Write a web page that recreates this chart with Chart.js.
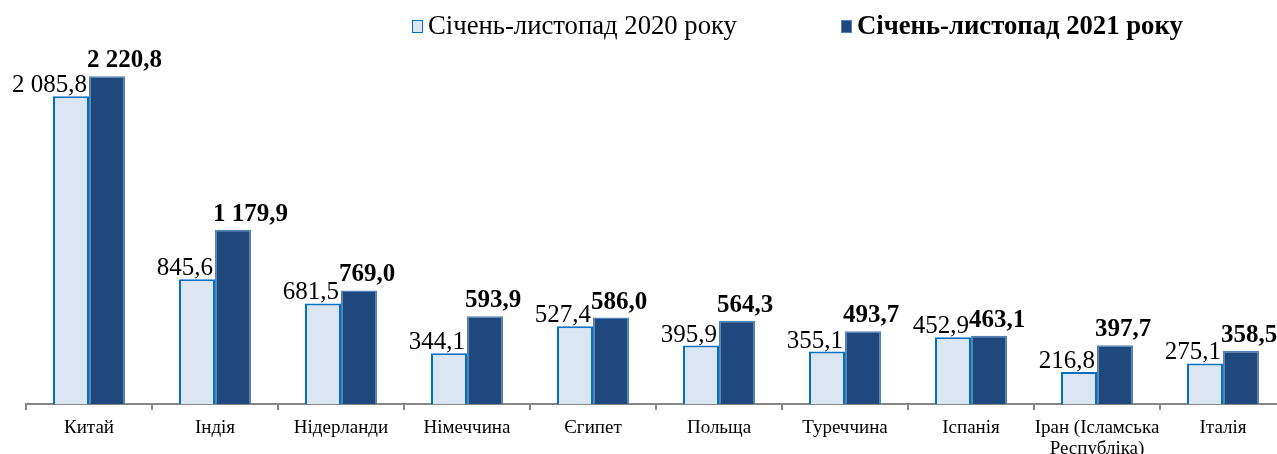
<!DOCTYPE html>
<html lang="uk">
<head>
<meta charset="utf-8">
<script src="https://cdn.jsdelivr.net/npm/chart.js@4.4.1/dist/chart.umd.min.js"></script>
<style>
  html, body { margin: 0; padding: 0; background: #fff; overflow: hidden; }
  #zone { position: relative; width: 1290px; height: 454px; }
  #legende { position: absolute; top: 10px; left: 0; font-family: "Liberation Serif", "Times New Roman", serif; font-size: 26.7px; color: #000; }
  .item { position: absolute; white-space: nowrap; top: 0; }
  .carre { display: inline-block; width: 9px; height: 11px; margin-right: 5px; vertical-align: 1px; }
</style>
</head>
<body>
<div id="zone">
  <canvas id="myChartExport" width="1290" height="454"></canvas>
  <div id="legende">
    <div class="item" style="left:412px"><span class="carre" style="background:#DCE6F2;border:1px solid #0070C0"></span>Січень-листопад 2020 року</div>
    <div class="item" style="left:841px;font-weight:bold"><span class="carre" style="background:#1F497D;border:1px solid #4F81BD"></span>Січень-листопад 2021 року</div>
  </div>
</div>
<script>
//? Données du graphique.

const pays = [
  "Китай",
  "Індія",
  "Нідерланди",
  "Німеччина",
  "Єгипет",
  "Польща",
  "Туреччина",
  "Іспанія",
  ["Іран (Ісламська", "Республіка)"],
  "Італія",
];

const valeurs2020 = [2085.8, 845.6, 681.5, 344.1, 527.4, 395.9, 355.1, 452.9, 216.8, 275.1];
const valeurs2021 = [2220.8, 1179.9, 769.0, 593.9, 586.0, 564.3, 493.7, 463.1, 397.7, 358.5];

//? -------------------------------------------------

//? Format "2 085,8".

const formaterValeur = (v) => {
  const [entier, dec] = v.toFixed(1).split(".");
  return entier.replace(/\B(?=(\d{3})+(?!\d))/g, " ") + "," + dec;
};

//? -------------------------------------------------

//? Plugin étiquettes au-dessus des barres.

const pluginEtiquettes = {
  id: "etiquettes",
  afterDatasetsDraw(chart) {
    const ctx = chart.ctx;
    ctx.save();
    ctx.fillStyle = "#000";
    ctx.textBaseline = "alphabetic";

    chart.data.datasets.forEach((dataset, i) => {
      const meta = chart.getDatasetMeta(i);
      meta.data.forEach((bar, j) => {
        const texte = formaterValeur(dataset.data[j]);
        const gauche = bar.x - bar.width / 2;
        const droite = bar.x + bar.width / 2;
        if (i === 0) {
          ctx.font = '25px "Liberation Serif"';
          ctx.textAlign = "right";
          ctx.fillText(texte, droite - 2, bar.y - 4);
        } else {
          ctx.font = 'bold 25px "Liberation Serif"';
          ctx.textAlign = "left";
          ctx.fillText(texte, gauche - 2, bar.y - 9);
        }
      });
    });
    ctx.restore();
  },
};

//? -------------------------------------------------

//? Construction du graphique.

const constructionDuGraphique = () => {
  try {
    const ctxExport = document.getElementById("myChartExport").getContext("2d");

    const data = {
      labels: pays,
      datasets: [
        {
          label: "Січень-листопад 2020 року",
          data: valeurs2020,
          backgroundColor: "#DCE6F2",
          borderColor: "#0070C0",
          borderWidth: 2,
          borderSkipped: "bottom",
        },
        {
          label: "Січень-листопад 2021 року",
          data: valeurs2021,
          backgroundColor: "#1F497D",
          borderColor: "#4F81BD",
          borderWidth: 1.5,
          borderSkipped: "bottom",
        },
      ],
    };

    const options = {
      responsive: false,
      animation: { duration: 0 },
      layout: { padding: { left: 26, right: 4, top: 35, bottom: 0 } },
      plugins: {
        legend: { display: false },
        tooltip: { enabled: false },
      },
      datasets: {
        bar: { categoryPercentage: 0.5714, barPercentage: 1 },
      },
      scales: {
        y: {
          display: false,
          min: 0,
          max: 2500,
        },
        x: {
          afterFit: (scale) => {
            scale.height = 50;
          },
          border: { display: true, color: "#868686", width: 2 },
          grid: {
            offset: true,
            drawOnChartArea: false,
            drawTicks: true,
            tickLength: 6,
            color: "#868686",
            lineWidth: 2,
          },
          ticks: {
            padding: 8,
            color: "#000",
            maxRotation: 0,
            autoSkip: false,
            font: { family: '"Liberation Serif"', size: 19, lineHeight: 1.1 },
          },
        },
      },
    };

    new Chart(ctxExport, { type: "bar", data, options, plugins: [pluginEtiquettes] });
  } catch (error) {
    console.error("🔴 ERREUR | Construction graphique :", error);
  }
};

constructionDuGraphique();
</script>
</body>
</html>
